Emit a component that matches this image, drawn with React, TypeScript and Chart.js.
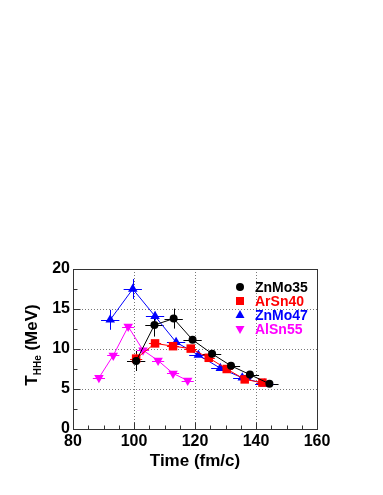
import React, { useEffect, useRef } from "react";
import { Chart, registerables } from "chart.js";

Chart.register(...registerables);

const seriesNames = ["ZnMo35", "ArSn40", "ZnMo47", "AlSn55"];
const seriesColors = ["#000000", "#ff0000", "#0000ff", "#ff00ff"];

const znmo35X = [100.7, 106.7, 113.0, 119.2, 125.6, 131.8, 138.0, 144.4];
const znmo35Y = [8.5, 13.0, 13.8, 11.15, 9.4, 7.9, 6.8, 5.65];
const znmo35Ex = [3, 3, 3, 3, 3, 3, 3, 3];
const znmo35Ey = [1.25, 1.45, 1.25, 0.3, 0.3, 0.25, 0.25, 0.2];

const arsn40X = [100.7, 106.9, 112.8, 118.6, 124.5, 130.4, 136.3, 142.1];
const arsn40Y = [8.8, 10.7, 10.35, 10.05, 8.9, 7.5, 6.2, 5.8];
const arsn40Ex = [2, 2, 2, 2, 2, 2, 2, 2];
const arsn40Ey = [0.6, 0.3, 0.3, 0.25, 0.25, 0.2, 0.2, 0.2];

const znmo47X = [92.2, 99.6, 106.9, 113.8, 121.1, 128.3, 135.5, 142.7];
const znmo47Y = [13.65, 17.5, 14.1, 10.85, 9.25, 7.6, 6.4, 5.65];
const znmo47Ex = [3, 3, 3, 3, 3, 3, 3, 3];
const znmo47Ey = [1.25, 1.25, 0.55, 0.25, 0.2, 0.2, 0.2, 0.15];

const alsn55X = [88.5, 93.2, 98.1, 102.95, 107.9, 112.8, 117.6];
const alsn55Y = [6.4, 9.2, 12.8, 9.85, 8.55, 6.95, 6.05];
const alsn55Ex = [2, 2, 2, 2, 2, 2, 2];
const alsn55Ey = [0.2, 0.2, 0.25, 0.2, 0.2, 0.2, 0.15];

const xTickValues = [80, 100, 120, 140, 160];
const yTickValues = [0, 5, 10, 15, 20];

const xs = [znmo35X, arsn40X, znmo47X, alsn55X];
const ys = [znmo35Y, arsn40Y, znmo47Y, alsn55Y];
const exs = [znmo35Ex, arsn40Ex, znmo47Ex, alsn55Ex];
const eys = [znmo35Ey, arsn40Ey, znmo47Ey, alsn55Ey];
const pointStyles = ["circle", "rect", "triangle", "triangle"];
const pointRotations = [0, 0, 0, 180];
const pointRadii = [4, 6, 5.5, 5.5];

const FONT = "'Liberation Sans', Arial, Helvetica, sans-serif";

const framePlugin = {
  id: "rootFrame",
  beforeDatasetsDraw(chart: any) {
    const { ctx, chartArea, scales } = chart;
    const xs_ = scales.x;
    const ys_ = scales.y;
    ctx.save();
    // error bars
    ctx.lineWidth = 1;
    for (let s = 0; s < xs.length; s++) {
      ctx.strokeStyle = seriesColors[s];
      for (let i = 0; i < xs[s].length; i++) {
        const px = xs_.getPixelForValue(xs[s][i]);
        const py = ys_.getPixelForValue(ys[s][i]);
        const x1 = xs_.getPixelForValue(xs[s][i] - exs[s][i]);
        const x2 = xs_.getPixelForValue(xs[s][i] + exs[s][i]);
        const y1 = ys_.getPixelForValue(ys[s][i] - eys[s][i]);
        const y2 = ys_.getPixelForValue(ys[s][i] + eys[s][i]);
        ctx.beginPath();
        ctx.moveTo(x1, Math.round(py) + 0.5);
        ctx.lineTo(x2, Math.round(py) + 0.5);
        ctx.moveTo(Math.round(px) + 0.5, y1);
        ctx.lineTo(Math.round(px) + 0.5, y2);
        ctx.stroke();
      }
    }
    // frame
    ctx.strokeStyle = "#333333";
    ctx.lineWidth = 1;
    const l = Math.round(chartArea.left) + 0.5;
    const r = Math.round(chartArea.right) + 0.5;
    const t = Math.round(chartArea.top) + 0.5;
    const b = Math.round(chartArea.bottom) + 0.5;
    ctx.strokeRect(l, t, r - l, b - t);
    // ticks
    ctx.beginPath();
    for (let v = 80; v <= 160; v += 5) {
      const px = Math.round(xs_.getPixelForValue(v)) + 0.5;
      const len = v % 20 === 0 ? 7 : 4;
      ctx.moveTo(px, b);
      ctx.lineTo(px, b - len);
    }
    for (let v = 0; v <= 20; v += 2.5) {
      const py = Math.round(ys_.getPixelForValue(v)) + 0.5;
      const len = v % 5 === 0 ? 7 : 4;
      ctx.moveTo(l, py);
      ctx.lineTo(l + len, py);
    }
    ctx.stroke();
    ctx.restore();
  },
  afterDraw(chart: any) {
    const { ctx, chartArea } = chart;
    ctx.save();
    ctx.fillStyle = "#000";
    // x title
    ctx.font = `bold 17px ${FONT}`;
    ctx.textAlign = "center";
    ctx.textBaseline = "middle";
    ctx.fillText("Time (fm/c)", (chartArea.left + chartArea.right) / 2, 461);
    // y title with subscript
    ctx.translate(37, 345);
    ctx.rotate(-Math.PI / 2);
    ctx.textAlign = "left";
    ctx.textBaseline = "alphabetic";
    const bigFont = `bold 17px ${FONT}`;
    const subFont = `bold 10px ${FONT}`;
    ctx.font = bigFont;
    const wT = ctx.measureText("T").width;
    const wRest = ctx.measureText(" (MeV)").width;
    ctx.font = subFont;
    const wSub = ctx.measureText("HHe").width;
    let x0 = -(wT + wSub + wRest) / 2;
    ctx.font = bigFont;
    ctx.fillText("T", x0, 0);
    x0 += wT;
    ctx.font = subFont;
    ctx.fillText("HHe", x0, 4);
    x0 += wSub;
    ctx.font = bigFont;
    ctx.fillText(" (MeV)", x0, 0);
    ctx.restore();

    // legend
    ctx.save();
    const legendY = [287, 301, 315, 329];
    for (let s = 0; s < seriesNames.length; s++) {
      const cx = 240;
      const cy = legendY[s];
      ctx.fillStyle = seriesColors[s];
      ctx.strokeStyle = seriesColors[s];
      ctx.beginPath();
      if (s === 0) {
        ctx.arc(cx, cy, 4, 0, Math.PI * 2);
        ctx.fill();
      } else if (s === 1) {
        ctx.fillRect(cx - 4, cy - 4, 8, 8);
      } else if (s === 2) {
        ctx.moveTo(cx, cy - 5);
        ctx.lineTo(cx + 4.5, cy + 3);
        ctx.lineTo(cx - 4.5, cy + 3);
        ctx.closePath();
        ctx.fill();
      } else {
        ctx.moveTo(cx, cy + 5);
        ctx.lineTo(cx + 4.5, cy - 3);
        ctx.lineTo(cx - 4.5, cy - 3);
        ctx.closePath();
        ctx.fill();
      }
      ctx.font = `bold 14px ${FONT}`;
      ctx.textAlign = "left";
      ctx.textBaseline = "middle";
      ctx.fillText(seriesNames[s], 255, cy + 1);
    }
    ctx.restore();
  },
};

export default function App() {
  const canvasRef = useRef<HTMLCanvasElement | null>(null);

  useEffect(() => {
    const canvas = canvasRef.current;
    if (!canvas) return;
    const datasets = seriesNames.map((name, s) => ({
      label: name,
      data: xs[s].map((x, i) => ({ x, y: ys[s][i] })),
      showLine: true,
      borderColor: seriesColors[s],
      backgroundColor: seriesColors[s],
      borderWidth: 1,
      pointStyle: pointStyles[s] as any,
      pointRotation: pointRotations[s],
      pointRadius: pointRadii[s],
      pointBorderWidth: 0,
      pointHoverRadius: pointRadii[s],
      tension: 0,
    }));
    const chart = new Chart(canvas, {
      type: "scatter",
      data: { datasets },
      options: {
        animation: false,
        responsive: false,
        devicePixelRatio: 1,
        layout: { padding: { top: 269, right: 66, left: 0, bottom: 0 } },
        plugins: {
          legend: { display: false },
          tooltip: { enabled: false },
        },
        scales: {
          x: {
            type: "linear",
            min: 80,
            max: 160,
            afterFit: (sc: any) => {
              sc.height = 66;
            },
            afterBuildTicks: (sc: any) => {
              sc.ticks = xTickValues.map((v) => ({ value: v }));
            },
            ticks: {
              color: "#000",
              font: { family: FONT, weight: "bold", size: 16 },
              padding: 3,
              maxRotation: 0,
              autoSkip: false,
            },
            grid: {
              drawTicks: false,
              color: (c: any) =>
                c.tick && (c.tick.value === 80 || c.tick.value === 160) ? "rgba(0,0,0,0)" : "#777777",
              lineWidth: 1,
            },
            border: { display: false, dash: [1, 2] },
          },
          y: {
            type: "linear",
            min: 0,
            max: 20,
            afterFit: (sc: any) => {
              sc.width = 73;
            },
            afterBuildTicks: (sc: any) => {
              sc.ticks = yTickValues.map((v) => ({ value: v }));
            },
            ticks: {
              color: "#000",
              font: { family: FONT, weight: "bold", size: 16 },
              padding: 3,
            },
            grid: {
              drawTicks: false,
              color: (c: any) =>
                c.tick && (c.tick.value === 0 || c.tick.value === 20) ? "rgba(0,0,0,0)" : "#777777",
              lineWidth: 1,
            },
            border: { display: false, dash: [1, 2] },
          },
        },
      } as any,
      plugins: [framePlugin],
    });
    return () => chart.destroy();
  }, []);

  return (
    <div style={{ position: "absolute", left: 0, top: 0, width: 383, height: 495, background: "#fff" }}>
      <canvas ref={canvasRef} width={383} height={495} style={{ width: 383, height: 495, display: "block" }} />
    </div>
  );
}
